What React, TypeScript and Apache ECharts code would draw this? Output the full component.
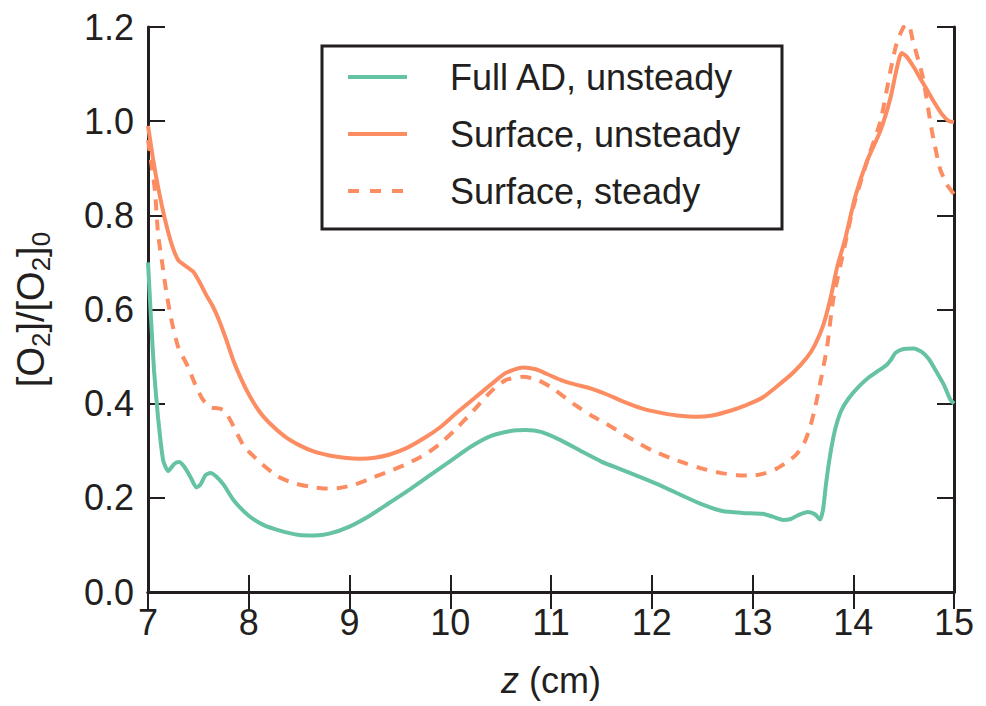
import React, { useEffect, useRef } from "react";
import * as echarts from "echarts";

// Full AD, unsteady
const zFull = [7.0, 7.03, 7.06, 7.1, 7.15, 7.2, 7.26, 7.31, 7.36, 7.42, 7.48, 7.52, 7.57, 7.62, 7.68, 7.75, 7.85, 8.0, 8.15, 8.3, 8.5, 8.65, 8.8, 9.0, 9.2, 9.4, 9.6, 9.8, 10.0, 10.2, 10.4, 10.6, 10.75, 10.9, 11.1, 11.3, 11.5, 11.7, 11.9, 12.1, 12.3, 12.5, 12.7, 12.9, 13.1, 13.2, 13.3, 13.38, 13.46, 13.55, 13.62, 13.67, 13.7, 13.73, 13.77, 13.82, 13.88, 13.95, 14.05, 14.15, 14.25, 14.33, 14.38, 14.42, 14.5, 14.6, 14.68, 14.75, 14.82, 14.9, 14.96, 15.0];
const vFull = [0.7, 0.58, 0.47, 0.37, 0.28, 0.257, 0.272, 0.276, 0.266, 0.245, 0.222, 0.228, 0.248, 0.253, 0.245, 0.228, 0.195, 0.162, 0.142, 0.131, 0.121, 0.12, 0.124, 0.139, 0.162, 0.19, 0.218, 0.248, 0.278, 0.308, 0.331, 0.342, 0.344, 0.34, 0.322, 0.299, 0.277, 0.26, 0.243, 0.225, 0.205, 0.186, 0.172, 0.168, 0.166, 0.16, 0.153, 0.155, 0.164, 0.17, 0.165, 0.154, 0.175, 0.23, 0.29, 0.345, 0.385, 0.41, 0.435, 0.455, 0.47, 0.482, 0.495, 0.508, 0.516, 0.517, 0.51, 0.495, 0.47, 0.44, 0.41, 0.4];

// Surface, unsteady
const zSurfU = [7.0, 7.05, 7.1, 7.17, 7.24, 7.3, 7.37, 7.45, 7.52, 7.58, 7.64, 7.7, 7.77, 7.85, 7.93, 8.0, 8.1, 8.2, 8.36, 8.5, 8.65, 8.8, 8.95, 9.1, 9.25, 9.4, 9.57, 9.75, 9.9, 10.05, 10.23, 10.4, 10.55, 10.72, 10.85, 10.96, 11.1, 11.22, 11.4, 11.55, 11.7, 11.9, 12.08, 12.25, 12.45, 12.6, 12.78, 12.95, 13.1, 13.25, 13.4, 13.54, 13.62, 13.7, 13.77, 13.84, 13.92, 14.02, 14.14, 14.27, 14.37, 14.43, 14.48, 14.53, 14.6, 14.66, 14.79, 14.88, 14.95, 15.0];
const vSurfU = [0.99, 0.92, 0.86, 0.79, 0.735, 0.705, 0.693, 0.68, 0.655, 0.63, 0.608, 0.58, 0.54, 0.49, 0.45, 0.42, 0.385, 0.36, 0.33, 0.312, 0.298, 0.29, 0.285, 0.283, 0.285, 0.292, 0.306, 0.328, 0.35, 0.378, 0.41, 0.44, 0.465, 0.477, 0.473, 0.463, 0.45, 0.442, 0.432, 0.42, 0.406, 0.39, 0.381, 0.375, 0.372, 0.375, 0.385, 0.398, 0.413, 0.438, 0.465, 0.498, 0.525, 0.565, 0.62, 0.69, 0.75, 0.84, 0.917, 0.98, 1.05, 1.11, 1.145, 1.137, 1.115, 1.093, 1.045, 1.015, 1.0, 0.998];

// Surface, steady
const zSurfS = [7.0, 7.04, 7.07, 7.1, 7.14, 7.18, 7.23, 7.3, 7.4, 7.47, 7.54, 7.62, 7.7, 7.76, 7.83, 7.9, 7.96, 8.05, 8.13, 8.29, 8.45, 8.6, 8.75, 8.9, 9.05, 9.23, 9.4, 9.57, 9.75, 9.9, 10.05, 10.23, 10.4, 10.55, 10.72, 10.85, 11.0, 11.22, 11.4, 11.55, 11.72, 11.88, 12.01, 12.18, 12.35, 12.5, 12.68, 12.85, 13.0, 13.12, 13.24, 13.35, 13.44, 13.52, 13.57, 13.62, 13.67, 13.74, 13.8, 13.9, 14.0, 14.14, 14.27, 14.37, 14.43, 14.5, 14.55, 14.59, 14.69, 14.78, 14.86, 14.93, 15.0];
const vSurfS = [0.96, 0.9, 0.85, 0.76, 0.7, 0.64, 0.58, 0.52, 0.477, 0.44, 0.41, 0.392, 0.39, 0.385, 0.36, 0.33, 0.307, 0.288, 0.272, 0.245, 0.231, 0.224, 0.22, 0.221, 0.228, 0.243, 0.257, 0.272, 0.292, 0.315, 0.345, 0.385, 0.425, 0.45, 0.457, 0.452, 0.435, 0.4, 0.375, 0.357, 0.335, 0.315, 0.3, 0.285, 0.272, 0.262, 0.253, 0.248, 0.247, 0.252, 0.262, 0.277, 0.293, 0.32, 0.349, 0.39, 0.442, 0.52, 0.62, 0.72, 0.817, 0.917, 1.0, 1.108, 1.165, 1.2, 1.205, 1.172, 1.094, 0.98, 0.9, 0.865, 0.845];

const seriesNames = ["Full AD, unsteady", "Surface, unsteady", "Surface, steady"];
const GREEN = "#66c2a5";
const ORANGE = "#fc8d62";
const INK = "#231f20";
const FONT = "'Liberation Sans', Arial, Helvetica, sans-serif";

const pairs = (zs: number[], vs: number[]) => zs.map((z, i) => [z, vs[i]]);

export default function App() {
  const ref = useRef<HTMLDivElement>(null);
  useEffect(() => {
    if (!ref.current) return;
    const chart = echarts.init(ref.current, undefined, { renderer: "svg" });
    const axisLine = { show: true, lineStyle: { color: INK, width: 3 } };
    const axisTick = { show: true, inside: true, length: 17, lineStyle: { color: INK, width: 2 } };
    const legendRows = [77, 134, 191];
    const legendColors = [GREEN, ORANGE, ORANGE];
    const legendDash: any[] = [null, null, [11, 11]];
    const graphic: any[] = [
      {
        type: "rect",
        shape: { x: 322, y: 46, width: 460, height: 183 },
        style: { fill: "#fff", stroke: INK, lineWidth: 3 },
        z: 100,
      },
    ];
    seriesNames.forEach((n, i) => {
      graphic.push({
        type: "line",
        shape: { x1: 348, y1: legendRows[i], x2: 407, y2: legendRows[i] },
        style: { stroke: legendColors[i], lineWidth: 4, lineDash: legendDash[i] || undefined },
        z: 101,
      });
      graphic.push({
        type: "text",
        x: 450,
        y: legendRows[i],
        style: { text: n, fontSize: 36, fontFamily: FONT, fill: INK, verticalAlign: "middle", align: "left" },
        z: 101,
      });
    });
    chart.setOption({
      animation: false,
      backgroundColor: "#fff",
      grid: { left: 148, top: 27, right: 32, bottom: 114, containLabel: false, outerBoundsMode: "none" },
      xAxis: [
        {
          type: "value",
          min: 7,
          max: 15,
          interval: 1,
          position: "bottom",
          axisLine,
          axisTick,
          splitLine: { show: false },
          axisLabel: { fontSize: 36, color: INK, fontFamily: FONT, margin: 12 },
          name: "{i|z} (cm)",
          nameLocation: "middle",
          nameGap: 70,
          nameTextStyle: {
            fontSize: 36,
            color: INK,
            fontFamily: FONT,
            rich: { i: { fontSize: 36, fontStyle: "italic", color: INK, fontFamily: FONT } },
          },
        },
        {
          type: "value",
          min: 7,
          max: 15,
          interval: 1,
          position: "top",
          axisLine,
          axisTick,
          splitLine: { show: false },
          axisLabel: { show: false },
        },
      ],
      yAxis: [
        {
          type: "value",
          min: 0,
          max: 1.2,
          interval: 0.2,
          position: "left",
          axisLine,
          axisTick,
          splitLine: { show: false },
          axisLabel: {
            fontSize: 36,
            color: INK,
            fontFamily: FONT,
            margin: 14,
            formatter: (v: number) => v.toFixed(1),
          },
          name: "[O{s|2}]/[O{s|2}]{s|0}",
          nameLocation: "middle",
          nameGap: 94,
          nameRotate: 90,
          nameTextStyle: {
            fontSize: 38,
            color: INK,
            fontFamily: FONT,
            lineHeight: 46,
            rich: {
              s: { fontSize: 26, color: INK, fontFamily: FONT, lineHeight: 26, verticalAlign: "bottom" },
            },
          },
        },
        {
          type: "value",
          min: 0,
          max: 1.2,
          interval: 0.2,
          position: "right",
          axisLine,
          axisTick,
          splitLine: { show: false },
          axisLabel: { show: false },
        },
      ],
      series: [
        {
          name: seriesNames[0],
          type: "line",
          data: pairs(zFull, vFull),
          showSymbol: false,
          symbol: "none",
          smooth: 0.2,
          clip: true,
          lineStyle: { color: GREEN, width: 4 },
          z: 3,
        },
        {
          name: seriesNames[1],
          type: "line",
          data: pairs(zSurfU, vSurfU),
          showSymbol: false,
          symbol: "none",
          smooth: 0.2,
          clip: true,
          lineStyle: { color: ORANGE, width: 4 },
          z: 3,
        },
        {
          name: seriesNames[2],
          type: "line",
          data: pairs(zSurfS, vSurfS),
          showSymbol: false,
          symbol: "none",
          smooth: 0.2,
          clip: true,
          lineStyle: { color: ORANGE, width: 4, type: [11, 9] },
          z: 3,
        },
      ],
      graphic,
    });
    return () => chart.dispose();
  }, []);
  return <div ref={ref} style={{ width: 986, height: 706, position: "absolute", left: 0, top: 0 }} />;
}
